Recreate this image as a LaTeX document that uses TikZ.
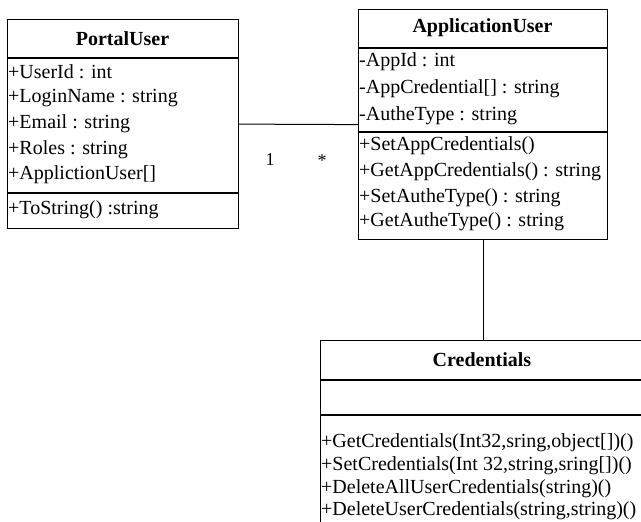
\documentclass[tikz,border=0pt]{standalone}
\usepackage{fontspec}
\setmainfont{Liberation Serif}
\begin{document}
\begin{tikzpicture}[x=1pt,y=-1pt,
  box/.style={draw,line width=1.2pt,inner sep=0pt,anchor=north west},
  sep/.style={line width=1.2pt},
  title/.style={font=\fontsize{20}{22}\selectfont\bfseries,inner sep=0pt},
  member/.style={font=\fontsize{20}{22}\selectfont,anchor=west,inner sep=0pt},
  conn/.style={line width=1pt},
  mult/.style={font=\fontsize{18}{20}\selectfont,inner sep=0pt}]
\clip (0,0) rectangle (641,522);
\path[use as bounding box] (0,0) rectangle (641,522);
% PortalUser
\node[box,minimum width=231pt,minimum height=209pt] (pu) at (7,19) {};
\draw[sep] (7,58) -- (238,58);
\draw[sep] (7,193) -- (238,193);
\node[title] (put) at (122.5,39) {PortalUser};
\node[member] (pu1) at (8,72) {+UserId : int};
\node[member] (pu2) at (8,98) {+LoginName : string};
\node[member] (pu3) at (8,124) {+Email : string};
\node[member] (pu4) at (8,150) {+Roles : string};
\node[member] (pu5) at (8,175) {+ApplictionUser[]};
\node[member] (pu6) at (8,210) {+ToString() :string};
% ApplicationUser
\node[box,minimum width=249pt,minimum height=230pt] (au) at (358,9) {};
\draw[sep] (358,48) -- (607,48);
\draw[sep] (358,132) -- (607,132);
\node[title] (aut) at (482.5,28) {ApplicationUser};
\node[member] (au1) at (359,62) {-AppId : int};
\node[member] (au2) at (359,89) {-AppCredential[] : string};
\node[member] (au3) at (359,116) {-AutheType : string};
\node[member] (au4) at (359,146) {+SetAppCredentials()};
\node[member] (au5) at (359,172) {+GetAppCredentials() : string};
\node[member] (au6) at (359,198) {+SetAutheType() : string};
\node[member] (au7) at (359,222) {+GetAutheType() : string};
% Credentials
\node[box,minimum width=340pt,minimum height=200pt] (cr) at (320,340) {};
\draw[sep] (320,380) -- (660,380);
\draw[sep] (320,415) -- (660,415);
\node[title] (crt) at (482,360) {Credentials};
\node[member] (cr1) at (321,443) {+GetCredentials(Int32,sring,object[])()};
\node[member] (cr2) at (321,466) {+SetCredentials(Int 32,string,sring[])()};
\node[member] (cr3) at (321,489) {+DeleteAllUserCredentials(string)()};
\node[member] (cr4) at (321,511) {+DeleteUserCredentials(string,string)()};
% connectors
\draw[conn] (pu.east) -- (au.west);
\node[mult] (m1) at (270,160) {1};
\node[mult] (m2) at (322,161) {*};
\draw[conn] (au.south) -- (au.south |- cr.north);
\end{tikzpicture}
\end{document}
